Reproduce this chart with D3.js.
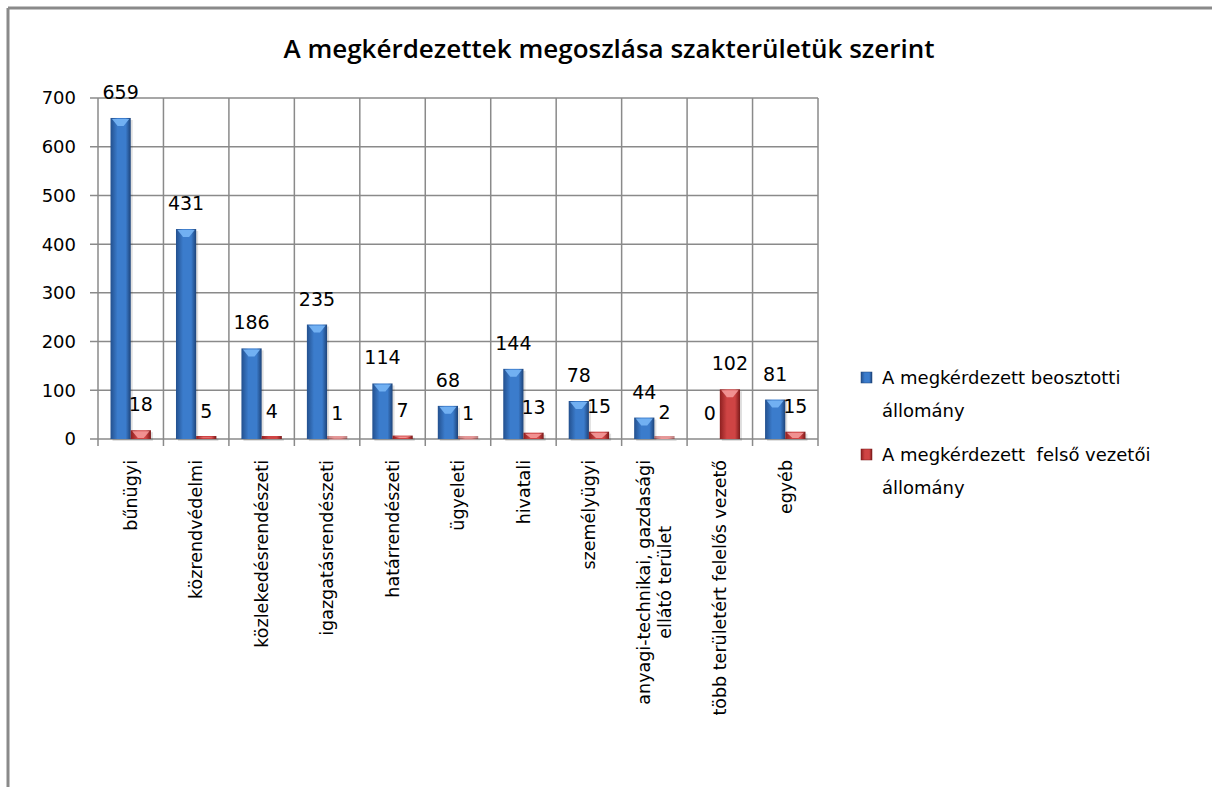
<!DOCTYPE html>
<html>
<head>
<meta charset="utf-8">
<script src="https://cdn.jsdelivr.net/npm/d3@7"></script>
<style>
  body { margin: 0; background: #fff; }
  svg { display: block; }
  .leg { white-space: pre; }
</style>
</head>
<body>
<svg id="chart" width="1212" height="787"></svg>
<script>
// A megkérdezettek megoszlása szakterületük szerint
const categories = ["bűnügyi", "közrendvédelmi", "közlekedésrendészeti", "igazgatásrendészeti",
    "határrendészeti", "ügyeleti", "hivatali", "személyügyi",
    "anyagi-technikai, gazdasági|ellátó terület", "több területért felelős vezető", "egyéb"];
const beosztotti = [659, 431, 186, 235, 114, 68, 144, 78, 44, 0, 81];
const felsoVezetoi = [18, 5, 4, 1, 7, 1, 13, 15, 2, 102, 15];
const seriesNames = ["A megkérdezett beosztotti|állomány", "A megkérdezett  felső vezetői|állomány"];
const yTicks = [0, 100, 200, 300, 400, 500, 600, 700];

const svg = d3.select("#chart");
const plotL = 98, plotR = 818, plotT = 98, plotB = 439;
const gridColor = "#8a8a8a";
const numFont = "'DejaVu Sans', Verdana, sans-serif";

// frame (top + left edges only)
svg.append("line").attr("x1", 8).attr("y1", 8).attr("x2", 1212).attr("y2", 8)
    .attr("stroke", "#8a8a8a").attr("stroke-width", 3);
svg.append("line").attr("x1", 8).attr("y1", 8).attr("x2", 8).attr("y2", 787)
    .attr("stroke", "#8a8a8a").attr("stroke-width", 3);

// title
svg.append("text")
    .attr("x", 609).attr("y", 58)
    .attr("text-anchor", "middle")
    .attr("font-family", "'Open Sans', sans-serif")
    .attr("font-weight", 600)
    .attr("font-size", 26)
    .text("A megkérdezettek megoszlása szakterületük szerint");

const x = d3.scaleBand().domain(d3.range(categories.length)).range([plotL, plotR]);
const xs = d3.scaleBand().domain([0, 1]).range([0, x.bandwidth()]).paddingOuter(0.62);
const y = d3.scaleLinear().domain([0, 700]).range([plotB, plotT]);

// gradients
const defs = svg.append("defs");
function grad(id, edge, mid, edge2) {
    const g = defs.append("linearGradient").attr("id", id)
        .attr("x1", "0%").attr("x2", "100%").attr("y1", "0%").attr("y2", "0%");
    g.append("stop").attr("offset", "0%").attr("stop-color", edge);
    g.append("stop").attr("offset", "35%").attr("stop-color", mid);
    g.append("stop").attr("offset", "75%").attr("stop-color", mid);
    g.append("stop").attr("offset", "100%").attr("stop-color", edge2);
}
grad("gBlue", "#23508e", "#3b7ccc", "#1d4379");
grad("gRed", "#8e2020", "#cf4444", "#7a1a1a");
const caps = ["#78b6f6", "#f49a9a"];
const fills = ["url(#gBlue)", "url(#gRed)"];

// horizontal grid + y ticks
svg.append("g").selectAll("line").data(yTicks).join("line")
    .attr("x1", plotL - 8).attr("x2", plotR)
    .attr("y1", d => y(d)).attr("y2", d => y(d))
    .attr("stroke", gridColor).attr("stroke-width", 1.5);

svg.append("g").selectAll("text").data(yTicks).join("text")
    .attr("x", 76).attr("y", d => y(d)).attr("dy", "0.36em")
    .attr("text-anchor", "end")
    .attr("font-family", numFont).attr("font-size", 18)
    .text(d => d);

// vertical grid at category boundaries
const bounds = d3.range(categories.length).map(i => x(i)).concat([plotR]);
svg.append("g").selectAll("line").data(bounds).join("line")
    .attr("x1", d => d).attr("x2", d => d)
    .attr("y1", plotT).attr("y2", plotB + 7)
    .attr("stroke", gridColor).attr("stroke-width", 1.5);

// bars
const seriesData = [beosztotti, felsoVezetoi];
seriesData.forEach((vals, s) => {
    const g = svg.append("g");
    const bw = xs.bandwidth();
    // shadow
    g.selectAll("rect.sh").data(vals).join("rect")
        .attr("class", "sh")
        .attr("x", (d, i) => x(i) + xs(s) + 2)
        .attr("y", d => y(d) + 2)
        .attr("width", bw)
        .attr("height", d => plotB - y(d))
        .attr("fill", "#000").attr("opacity", d => d > 0 ? 0.12 : 0);
    g.selectAll("rect.bar").data(vals).join("rect")
        .attr("class", "bar")
        .attr("x", (d, i) => x(i) + xs(s))
        .attr("y", d => Math.min(y(d), plotB - 3))
        .attr("width", bw)
        .attr("height", d => d > 0 ? Math.max(plotB - y(d), 3) : 0)
        .attr("fill", fills[s])
        .attr("opacity", d => d < 3 ? 0.55 : 1);
    // top bevel
    g.selectAll("polygon").data(vals).join("polygon")
        .attr("points", (d, i) => {
            const x0 = x(i) + xs(s), x1 = x0 + bw, cx = (x0 + x1) / 2, t = y(d);
            const h = Math.min(8, Math.max(plotB - t - 1, 0));
            return [[x0 + 1.5, t + 1], [x1 - 1.5, t + 1], [cx + 3, t + h], [cx - 3, t + h]].join(" ");
        })
        .attr("fill", caps[s])
        .attr("opacity", d => d > 0 ? 0.9 : 0);
    // value labels
    g.selectAll("text").data(vals).join("text")
        .attr("x", (d, i) => x(i) + xs(s) + bw / 2)
        .attr("y", d => y(d) - 19)
        .attr("text-anchor", "middle")
        .attr("font-family", numFont).attr("font-size", 19)
        .text(d => d);
});

// category labels (rotated)
const labFont = "'DejaVu Sans', Verdana, sans-serif";
categories.forEach((c, i) => {
    const lines = c.split("|");
    const cx = x(i) + x.bandwidth() / 2;
    const g = svg.append("g").attr("transform", `translate(${cx},460) rotate(-90)`);
    const texts = lines.map((ln, k) => g.append("text")
        .attr("font-family", labFont).attr("font-size", 17.5)
        .attr("y", (k - (lines.length - 1) / 2) * 21)
        .attr("dy", "0.36em")
        .text(ln));
    const maxLen = d3.max(texts, t => t.node().getComputedTextLength());
    texts.forEach(t => t.attr("text-anchor", "middle").attr("x", -maxLen / 2));
});

// legend
const legY = [384, 461];
seriesNames.forEach((nm, s) => {
    const g = svg.append("g");
    g.append("rect").attr("x", 861).attr("y", legY[s] - 12).attr("width", 11).attr("height", 11)
        .attr("fill", fills[s]).attr("stroke", s === 0 ? "#1d4379" : "#7a1a1a").attr("stroke-width", 0.5);
    nm.split("|").forEach((ln, k) => {
        g.append("text").attr("class", "leg").attr("x", 882).attr("y", legY[s] + k * 33)
            .attr("font-family", labFont).attr("font-size", 18)
            .text(ln);
    });
});
</script>
</body>
</html>
